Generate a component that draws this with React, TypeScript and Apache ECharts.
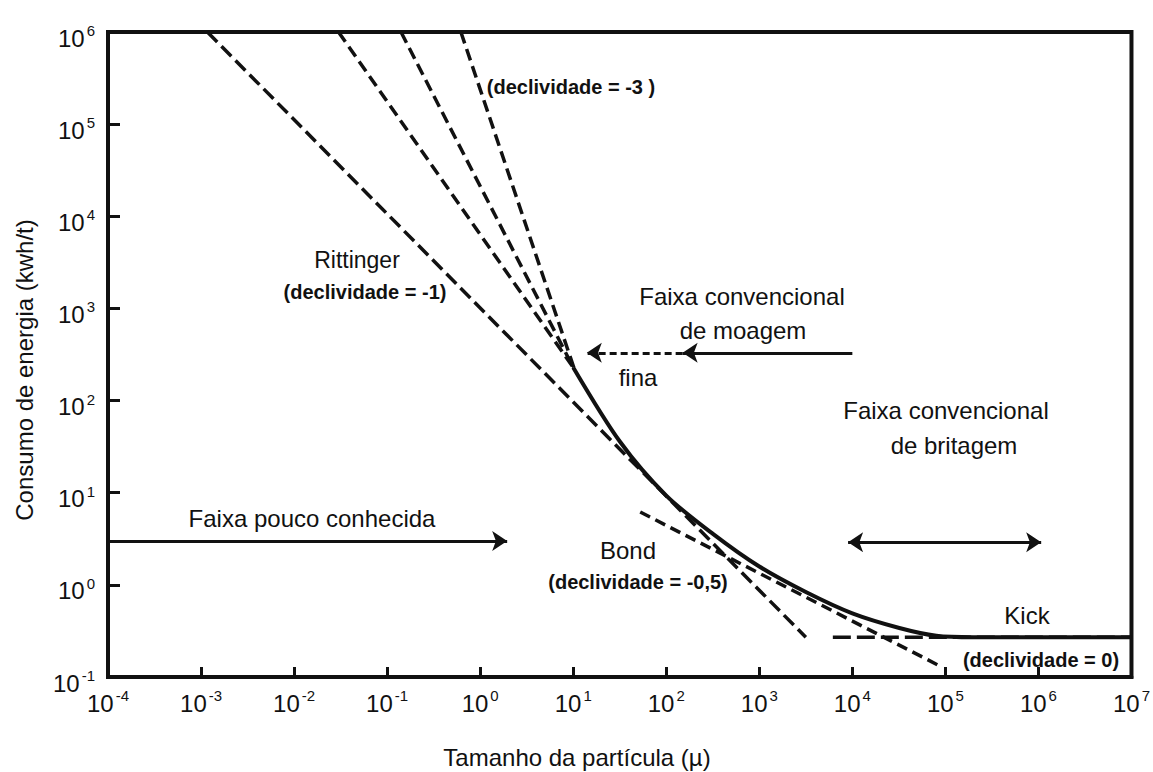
import React, { useEffect, useRef } from "react";
import * as echarts from "echarts";

// ---- data (x: particle size in µm, y: energy in kWh/t) ----
const mainCurveX = [10, 32, 100, 320, 1000, 3200, 10000, 32000, 80000, 200000, 10000000];
const mainCurveY = [229, 35.5, 9.3, 3.55, 1.58, 0.83, 0.49, 0.34, 0.28, 0.27, 0.27];

const rittingerX = [0.00117, 3160];
const rittingerY = [1000000, 0.27];

const slopeBX = [0.03, 10];
const slopeBY = [1000000, 229];

const slope2X = [0.141, 10];
const slope2Y = [1000000, 229];

const slope3X = [0.62, 10.5];
const slope3Y = [1000000, 206];

const bondX = [52.5, 83000];
const bondY = [6.17, 0.135];

const kickX = [6170, 10000000];
const kickY = [0.27, 0.27];

const poucoArrowX = [0.0001, 1.95];
const poucoArrowY = [3.0, 3.0];

const moagemSolidX = [10000, 150];
const moagemDashedX = [150, 14];
const moagemY = [330, 330];

const britagemX = [9000, 1070000];
const britagemY = [2.9, 2.9];

const xMin = 0.0001;
const xMax = 10000000;
const yMin = 0.1;
const yMax = 1000000;

const FONT = '"Liberation Sans", Arial, Helvetica, sans-serif';
const INK = "#111111";

const pairs = (xs: number[], ys: number[]) => xs.map((x, i) => [x, ys[i]]);

const dashedLine = (name: string, xs: number[], ys: number[], dash: number[]) => ({
  name,
  type: "line",
  data: pairs(xs, ys),
  showSymbol: false,
  symbol: "none",
  smooth: false,
  lineStyle: { color: INK, width: 3.5, type: dash, cap: "butt" },
  z: 3,
});

const tickLabel = (margin: number) => ({
  margin,
  color: INK,
  formatter: (v: number) => `{b|10}{e|${Math.round(Math.log10(v))}}`,
  rich: {
    b: { fontSize: 24, lineHeight: 24, padding: [12, 0, 0, 0], fontFamily: FONT, color: INK },
    e: {
      fontSize: 15,
      lineHeight: 15,
      padding: [3, 0, 0, 2],
      verticalAlign: "top",
      fontFamily: FONT,
      color: INK,
    },
  },
});

const txt = (text: string, x: number, y: number, size: number, bold = false, rotation = 0) => ({
  type: "text",
  x,
  y,
  rotation,
  z: 10,
  style: {
    text,
    fill: INK,
    fontSize: size,
    fontFamily: FONT,
    fontWeight: bold ? "bold" : "normal",
    textAlign: "center",
    textVerticalAlign: "middle",
    align: "center",
    verticalAlign: "middle",
  },
});

export default function App() {
  const ref = useRef<HTMLDivElement>(null);

  useEffect(() => {
    if (!ref.current) return;
    const chart = echarts.init(ref.current, null, { renderer: "svg" });
    chart.setOption({
      animation: false,
      backgroundColor: "#ffffff",
      grid: {
        left: 108,
        right: 15,
        top: 32,
        bottom: 95,
        show: true,
        borderColor: INK,
        borderWidth: 4,
        backgroundColor: "transparent",
      },
      xAxis: {
        type: "log",
        logBase: 10,
        min: xMin,
        max: xMax,
        interval: 1,
        splitNumber: 11,
        axisLine: { show: true, lineStyle: { color: INK, width: 4 } },
        axisTick: { show: true, inside: true, length: 10, lineStyle: { color: INK, width: 3 } },
        splitLine: { show: false },
        minorTick: { show: false },
        axisLabel: tickLabel(8),
      },
      yAxis: {
        type: "log",
        logBase: 10,
        min: yMin,
        max: yMax,
        interval: 1,
        splitNumber: 7,
        axisLine: { show: true, lineStyle: { color: INK, width: 4 } },
        axisTick: { show: true, inside: true, length: 12, lineStyle: { color: INK, width: 3 } },
        splitLine: { show: false },
        minorTick: { show: false },
        axisLabel: tickLabel(13),
      },
      series: [
        {
          name: "Curva",
          type: "line",
          data: pairs(mainCurveX, mainCurveY),
          showSymbol: false,
          symbol: "none",
          smooth: 0.3,
          lineStyle: { color: INK, width: 4 },
          z: 4,
        },
        dashedLine("Rittinger", rittingerX, rittingerY, [14, 6]),
        dashedLine("Declividade B", slopeBX, slopeBY, [12, 6]),
        dashedLine("Declividade -2", slope2X, slope2Y, [12, 6]),
        dashedLine("Declividade -3", slope3X, slope3Y, [12, 6]),
        dashedLine("Bond", bondX, bondY, [11, 6]),
        dashedLine("Kick", kickX, kickY, [18, 6]),
        {
          name: "Faixa pouco conhecida",
          type: "lines",
          coordinateSystem: "cartesian2d",
          symbol: ["none", "arrow"],
          symbolSize: 15,
          lineStyle: { color: INK, width: 3, opacity: 1 },
          data: [{ coords: pairs(poucoArrowX, poucoArrowY) }],
          z: 5,
        },
        {
          name: "Moagem",
          type: "lines",
          coordinateSystem: "cartesian2d",
          symbol: ["none", "arrow"],
          symbolSize: 15,
          lineStyle: { color: INK, width: 3, opacity: 1 },
          data: [
            { coords: pairs(moagemSolidX, moagemY) },
            { coords: pairs(moagemDashedX, moagemY), lineStyle: { type: [7, 4], color: INK, width: 3 } },
          ],
          z: 5,
        },
        {
          name: "Britagem",
          type: "lines",
          coordinateSystem: "cartesian2d",
          symbol: ["arrow", "arrow"],
          symbolSize: 15,
          lineStyle: { color: INK, width: 3, opacity: 1 },
          data: [{ coords: pairs(britagemX, britagemY) }],
          z: 5,
        },
      ],
      graphic: [
        txt("(declividade = -3 )", 571, 87, 20, true),
        txt("Rittinger", 357, 260, 23),
        txt("(declividade = -1)", 365, 292, 20, true),
        txt("Faixa convencional", 742, 296, 24),
        txt("de moagem", 743, 330, 24),
        txt("fina", 638, 377, 24),
        txt("Faixa convencional", 946, 410, 24),
        txt("de britagem", 954, 445, 24),
        txt("Faixa pouco conhecida", 312, 518, 24),
        txt("Bond", 628, 550, 24),
        txt("(declividade = -0,5)", 638, 582, 20, true),
        txt("Kick", 1027, 615, 24),
        txt("(declividade = 0)", 1041, 660, 20, true),
        txt("Consumo de energia (kwh/t)", 24, 370, 24, false, Math.PI / 2),
        txt("Tamanho da partícula (µ)", 577, 757, 24),
      ],
    });
    return () => chart.dispose();
  }, []);

  return (
    <div
      ref={ref}
      style={{ position: "absolute", left: 0, top: 0, width: 1153, height: 772, background: "#fff" }}
    />
  );
}
